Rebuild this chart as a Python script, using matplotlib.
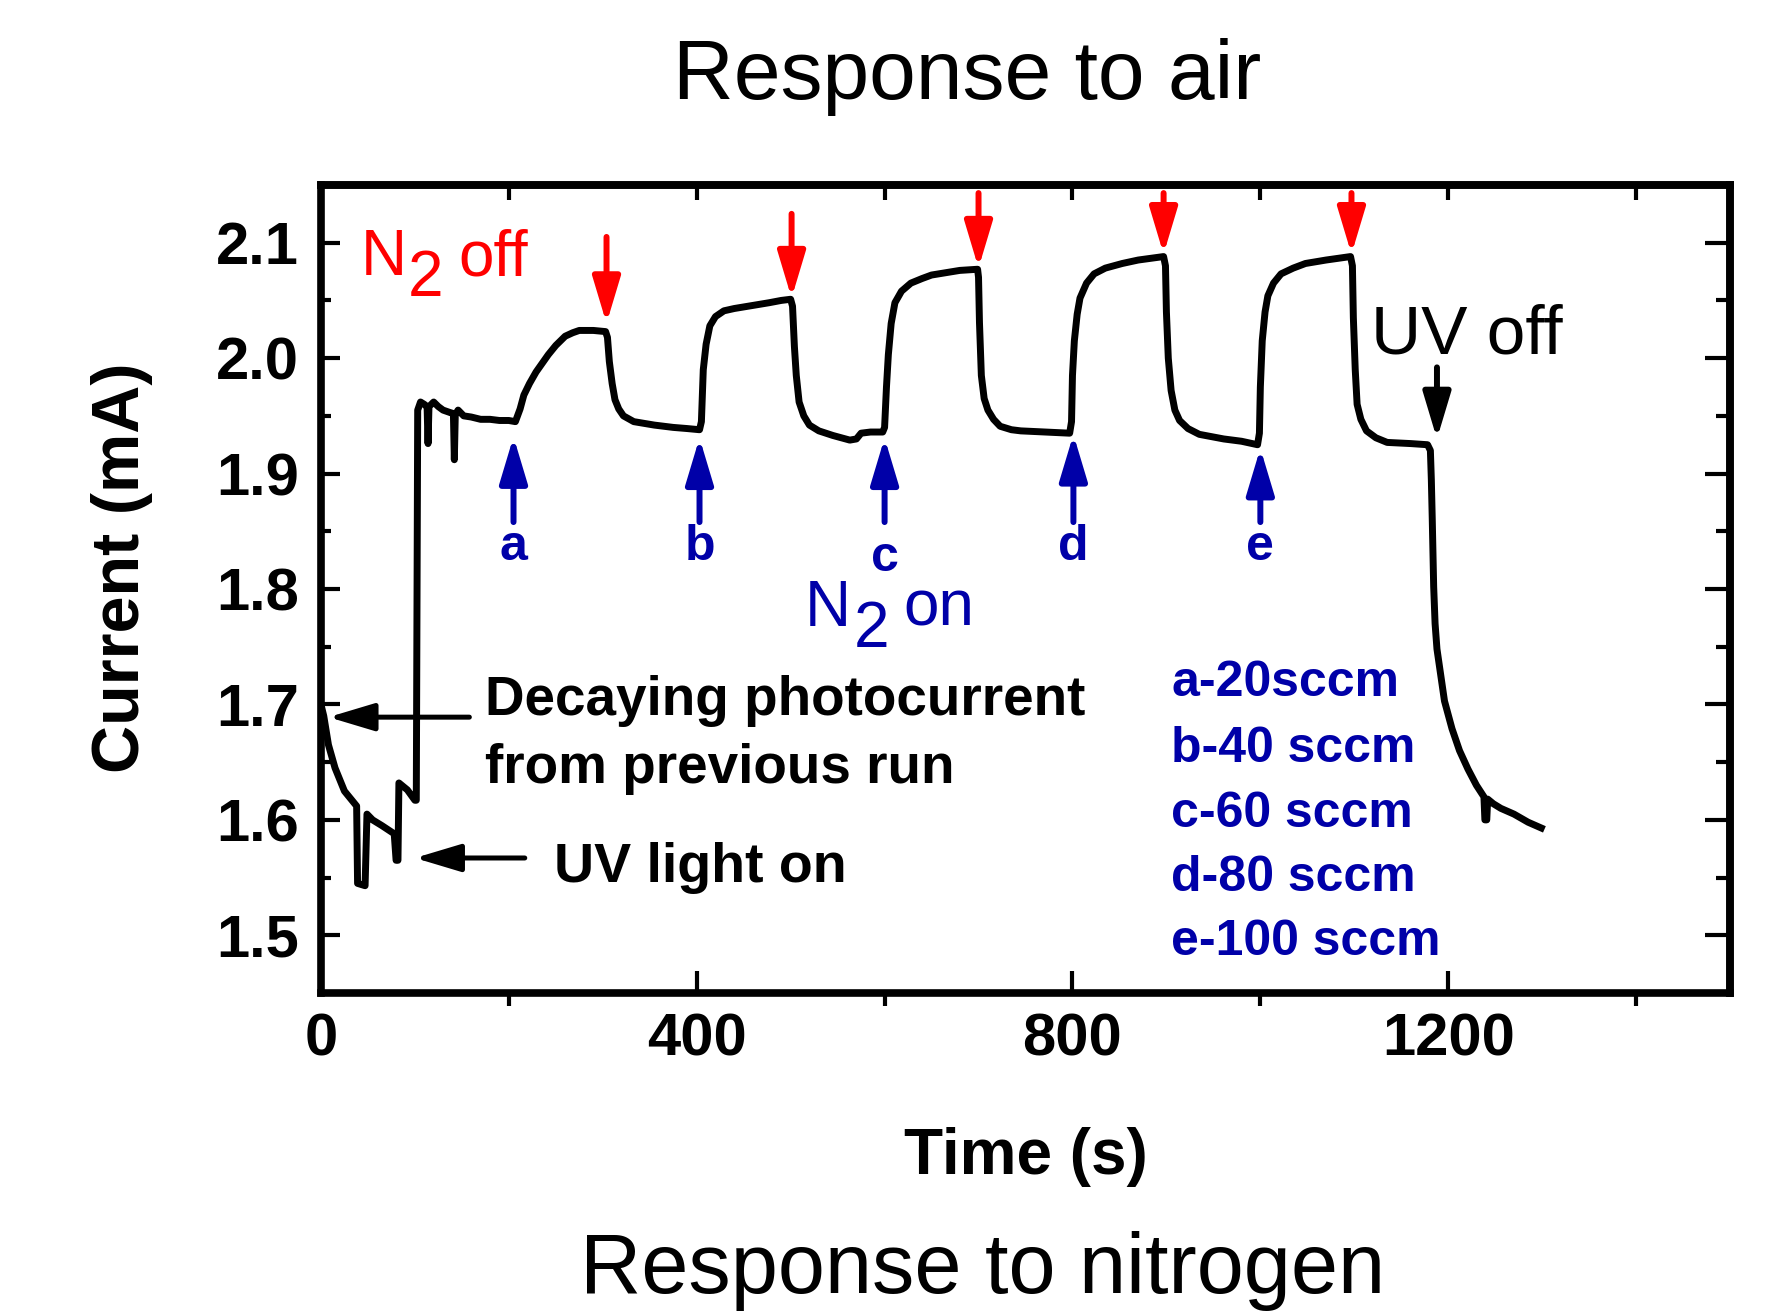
import numpy as np
import matplotlib
matplotlib.use("Agg")
import matplotlib.pyplot as plt

plt.rcParams['font.family'] = ['Liberation Sans', 'DejaVu Sans']

# photocurrent trace (time in s, current in mA)
time_s = [0, 3, 8, 15, 25, 35, 38, 39, 47, 49, 55, 65, 78, 80, 82, 83, 92, 100, 101.5,
          103, 106, 110, 113, 114, 115, 120, 125, 130, 137, 141, 142, 143, 146, 152, 160,
          170, 180, 190, 200, 207,
          212, 216, 222, 229, 236, 242, 250, 260, 268, 275, 290, 303,
          305, 307, 310, 313, 317, 322, 333, 355, 375, 390, 403,
          405, 407, 410, 414, 420, 429, 440, 455, 477, 490, 500,
          502, 504, 506, 509, 514, 520, 530, 545, 563, 570, 575, 585, 598,
          600, 602, 604, 607, 611, 618, 628, 640, 650, 665, 680, 699,
          700, 701, 703, 706, 710, 716, 723, 735, 745, 770, 797,
          799, 800, 802, 805, 808, 815, 823, 835, 853, 870, 888, 897,
          899, 900, 902, 905, 909, 914, 923, 935, 961, 980, 997,
          999, 1000, 1002, 1005, 1008, 1014, 1022, 1035, 1048, 1070, 1096,
          1098, 1099, 1101, 1103, 1107, 1113, 1123, 1135, 1160, 1178, 1181,
          1182, 1183, 1184.5, 1186, 1188, 1191, 1196, 1204, 1212, 1221, 1230, 1238,
          1239, 1241, 1242, 1248, 1256, 1270, 1285, 1299]
current_ma = [1.700, 1.690, 1.665, 1.645, 1.625, 1.615, 1.612, 1.545, 1.543, 1.605, 1.600, 1.595, 1.588, 1.565, 1.565, 1.632, 1.626, 1.617, 1.617,
              1.955, 1.962, 1.960, 1.958, 1.926, 1.958, 1.962, 1.958, 1.955, 1.953, 1.952, 1.912, 1.951, 1.955, 1.950, 1.949,
              1.947, 1.947, 1.946, 1.946, 1.945,
              1.956, 1.968, 1.978, 1.988, 1.996, 2.003, 2.011, 2.019, 2.022, 2.024, 2.024, 2.023,
              2.018, 1.997, 1.978, 1.964, 1.956, 1.950, 1.945, 1.942, 1.940, 1.939, 1.938,
              1.945, 1.990, 2.012, 2.028, 2.036, 2.041, 2.043, 2.045, 2.048, 2.050, 2.051,
              2.045, 2.010, 1.985, 1.962, 1.950, 1.942, 1.937, 1.933, 1.929, 1.930, 1.935, 1.936, 1.936,
              1.940, 1.975, 2.003, 2.030, 2.048, 2.058, 2.065, 2.069, 2.072, 2.074, 2.076, 2.077,
              2.070, 2.031, 1.985, 1.965, 1.955, 1.947, 1.941, 1.938, 1.937, 1.936, 1.935,
              1.945, 1.985, 2.015, 2.038, 2.052, 2.065, 2.073, 2.078, 2.082, 2.085, 2.087, 2.088,
              2.080, 2.040, 2.000, 1.972, 1.955, 1.946, 1.939, 1.934, 1.930, 1.928, 1.925,
              1.935, 1.975, 2.015, 2.040, 2.054, 2.065, 2.073, 2.078, 2.082, 2.085, 2.088,
              2.080, 2.035, 1.990, 1.960, 1.947, 1.937, 1.931, 1.927, 1.926, 1.925, 1.920,
              1.895, 1.860, 1.802, 1.770, 1.748, 1.731, 1.703, 1.679, 1.660, 1.644, 1.630, 1.620,
              1.600, 1.600, 1.618, 1.614, 1.610, 1.605, 1.598, 1.593]

# gas switching events
n2_on_times = [205, 403, 600, 801, 1000]
n2_on_levels = [1.932, 1.931, 1.931, 1.934, 1.922]
n2_on_labels = ['a', 'b', 'c', 'd', 'e']
n2_off_times = [304, 501, 700, 897, 1097]
n2_off_levels = [2.030, 2.052, 2.078, 2.090, 2.090]
n2_off_tops = [2.105, 2.125, 2.143, 2.143, 2.143]
flow_labels = ['a-20sccm', 'b-40 sccm', 'c-60 sccm', 'd-80 sccm', 'e-100 sccm']
uv_off_time = 1188

RED = '#ff0000'
BLUE = '#0000a8'

fig = plt.figure(figsize=(17.81, 13.12), dpi=100)
ax = fig.add_axes([0.1802, 0.2431, 0.7912, 0.6159])

ax.plot(time_s, current_ma, color='black', lw=5.0, solid_joinstyle='round')

ax.set_xlim(0, 1500)
ax.set_ylim(1.45, 2.15)

ax.set_xticks([0, 400, 800, 1200])
ax.set_xticks([200, 600, 1000, 1400], minor=True)
ax.set_yticks([1.5, 1.6, 1.7, 1.8, 1.9, 2.0, 2.1])
ax.set_yticklabels(['1.5', '1.6', '1.7', '1.8', '1.9', '2.0', '2.1'])
ax.set_yticks([1.55, 1.65, 1.75, 1.85, 1.95, 2.05], minor=True)

for lbl in ax.get_xticklabels() + ax.get_yticklabels():
    lbl.set_fontweight('bold')

ax.tick_params(axis='x', which='major', direction='in', length=16, width=3,
               labelsize=43, pad=14, top=False)
ax.tick_params(axis='x', which='minor', direction='out', length=9, width=3, top=False)
ax.tick_params(axis='y', which='major', direction='in', length=14, width=3,
               labelsize=43, pad=16, right=False)
ax.tick_params(axis='y', which='minor', direction='in', length=7, width=3, right=False)

for sp in ax.spines.values():
    sp.set_linewidth(5.5)

# top and right tick marks (drawn inward)
top = ax.secondary_xaxis('top')
top.set_xticks([200, 400, 600, 800, 1000, 1200, 1400])
top.tick_params(direction='in', length=11, width=3, labeltop=False)
top.spines['top'].set_linewidth(5.5)
right = ax.secondary_yaxis('right')
right.set_yticks([1.5, 1.6, 1.7, 1.8, 1.9, 2.0, 2.1])
right.set_yticks([1.55, 1.65, 1.75, 1.85, 1.95, 2.05], minor=True)
right.tick_params(which='major', direction='in', length=18, width=3, labelright=False)
right.tick_params(which='minor', direction='in', length=10, width=3, labelright=False)
right.spines['right'].set_linewidth(5.5)

ax.set_xlabel('Time (s)', fontsize=46, fontweight='bold')
ax.xaxis.set_label_coords(0.5, -0.166)
ax.set_ylabel('Current (mA)', fontsize=48, fontweight='bold')
ax.yaxis.set_label_coords(-0.119, 0.527)


def arrow(x0, y0, x1, y1, color, lw=4.3):
    ax.annotate('', xy=(x1, y1), xytext=(x0, y0),
                arrowprops=dict(arrowstyle='-|>,head_length=1.4,head_width=0.42',
                                color=color, lw=lw, shrinkA=0, shrinkB=0,
                                mutation_scale=20))


# N2 on (blue, upward)
for t, lev, lab in zip(n2_on_times, n2_on_levels, n2_on_labels):
    arrow(t, 1.858, t, lev, BLUE)
    ly = 1.816 if lab == 'c' else 1.825
    ax.text(t, ly, lab, color=BLUE, fontsize=36, fontweight='bold',
            ha='center', va='baseline')

# N2 off (red, downward)
for t, lev, topv in zip(n2_off_times, n2_off_levels, n2_off_tops):
    arrow(t, topv, t, lev, RED)

# UV off
arrow(uv_off_time, 1.992, uv_off_time, 1.930, 'black')
ax.text(1118, 2.004, 'UV off', fontsize=50, ha='left', va='baseline')

# N2 off / N2 on labels
ax.text(42, 2.072, 'N', color=RED, fontsize=46, va='baseline')
ax.text(92, 2.054, '2', color=RED, fontsize=46, va='baseline')
ax.text(146, 2.072, 'off', color=RED, fontsize=46, va='baseline')
ax.text(515, 1.768, 'N', color=BLUE, fontsize=46, va='baseline')
ax.text(567, 1.750, '2', color=BLUE, fontsize=46, va='baseline')
ax.text(620, 1.768, 'on', color=BLUE, fontsize=46, va='baseline')

# left side notes
arrow(158, 1.689, 8, 1.689, 'black', lw=3.6)
ax.text(175, 1.691, 'Decaying photocurrent', fontsize=39.5, fontweight='bold', va='baseline')
ax.text(175, 1.632, 'from previous run', fontsize=39.5, fontweight='bold', va='baseline')
arrow(217, 1.567, 100, 1.567, 'black', lw=3.6)
ax.text(248, 1.546, 'UV light on', fontsize=40, fontweight='bold', va='baseline')

# flow rates
flow_y = [1.707, 1.650, 1.594, 1.538, 1.483]
for lab, yv in zip(flow_labels, flow_y):
    ax.text(905, yv, lab, color=BLUE, fontsize=36, fontweight='bold', va='baseline')

fig.text(967 / 1781, 1 - 99 / 1312, 'Response to air', fontsize=60.5,
         ha='center', va='baseline')
fig.text(983 / 1781, 1 - 1293 / 1312, 'Response to nitrogen', fontsize=61,
         ha='center', va='baseline')

fig.savefig('out.png', dpi=100)
